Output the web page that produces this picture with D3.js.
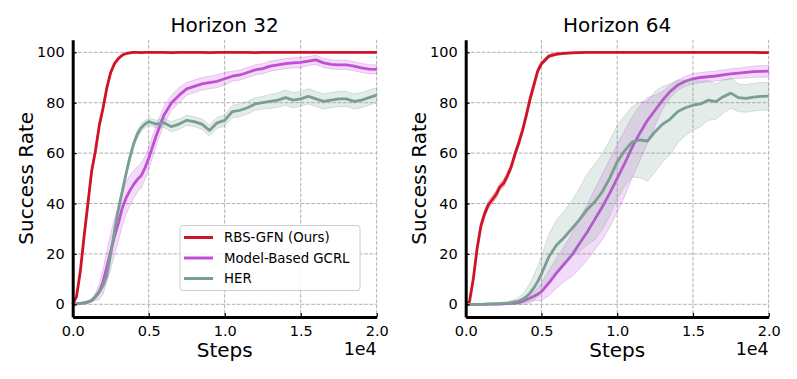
<!DOCTYPE html>
<html><head><meta charset="utf-8">
<script src="https://cdn.jsdelivr.net/npm/d3@7"></script>
<style>
body{margin:0;background:#fff;}
text{font-family:"DejaVu Sans",sans-serif;fill:#000;}
</style></head>
<body><svg id="c" width="797" height="379"></svg>
<script>
const steps = [0,250,500,750,1000,1250,1500,1750,2000,2250,2500,2750,3000,3250,3500,3750,4000,4250,4500,4750,5000,
  5500,6000,6500,7000,7500,8000,8500,9000,9500,10000,10500,11000,11500,12000,12500,13000,13500,14000,14500,15000,
  15500,16000,16500,17000,17500,18000,18500,19000,19500,20000];
const seriesNames = ["RBS-GFN (Ours)", "Model-Based GCRL", "HER"];
const seriesColors = ["#cf1427", "#c04fd6", "#7a9e91"];
const panelTitles = ["Horizon 32", "Horizon 64"];
const xTicks = [0, 5000, 10000, 15000, 20000];
const yTicks = [0, 20, 40, 60, 80, 100];

// Horizon 32
const h32Red = [0,3,13,27,40,53,61,71,78,86,92,95.5,97.5,98.8,99.5,99.8,100,100,99.9,100,100,
  100,100,99.9,100,100,100,100,99.9,100,100,100,100,100,99.9,100,100,100,100,100,100,100,100,100,100,100,100,100,100,100,100];
const h32RedSd = [0,1,1.5,1.5,1.5,1.5,1.5,1.5,1.2,1,0.8,0.6,0.4,0.3,0.2,0.2,0.2,0.2,0.2,0.2,0.2,
  0.2,0.2,0.2,0.2,0.2,0.2,0.2,0.2,0.2,0.2,0.2,0.2,0.2,0.2,0.2,0.2,0.2,0.2,0.2,0.2,0.2,0.2,0.2,0.2,0.2,0.2,0.2,0.2,0.2,0.2];
const h32Mbm = [0,0.2,0.4,0.6,1,1.5,3,5,9,15,21,27,32,38,42,45,47.5,49.5,51,54,58,
  67,75,80,83,85.5,86.5,87.5,88,88.5,89.5,90.5,91,92,93,93.5,94.5,95,95.5,95.8,96,96.5,97,95.8,95.2,95,95,94.5,93.8,93.3,93.2];
const h32MbmSd = [0,0.2,0.3,0.3,0.4,0.6,1.5,3,5,6,7,7,7,7,6.5,6,5.5,5,5,4.5,4.5,
  4,3.5,3,3,2.5,2.5,2.5,2.5,2.5,2.5,2,2,2,2,2,2,2,2,2,2,1.8,1.8,1.8,1.8,1.8,1.8,1.8,1.8,1.8,1.8];
const h32Her = [0,0.2,0.4,0.6,0.8,1.5,3,5,7.5,11.5,20,29,37.5,44.5,51.5,58,63.5,67.5,70,71.5,72.5,
  71.5,72,70.5,71.5,73,72.5,71.5,69,72,73,76.5,77,78,79.5,80,80.5,81,82,81,81.5,82.5,81.5,80.5,81,81.5,81.5,80.5,81,82,83];
const h32HerSd = [0,0.2,0.3,0.4,0.5,0.6,0.8,1,1.2,1.5,1.5,1.5,1.5,1.5,1.5,1.5,1.5,1.5,1.5,1.5,1.5,
  1.5,1.8,2,2,2,2,2,2.2,2.2,2.2,2.5,2.5,2.5,2.5,2.5,2.8,2.8,3,3,3,3,3,3,3,3,3,3,3,3,3];

// Horizon 64
const h64Red = [0,1,10,22,31,36,39.5,41.5,43.5,46.5,48,51,54.5,59.5,64,69,75,81.5,87,92.5,95.5,
  98.5,99.3,99.6,99.8,99.9,100,100,100,100,100,100,100,100,100,100,100,100,100,100,100,100,100,100,100,100,100,100,100,99.9,99.9];
const h64RedSd = [0,0.5,1,1.5,1.5,1.5,1.5,1.5,1.5,1.5,1.5,1.5,1.5,1.5,1.5,1.5,1.5,1.5,1.5,1.2,1,
  0.7,0.5,0.4,0.3,0.3,0.3,0.3,0.3,0.3,0.3,0.3,0.3,0.3,0.3,0.3,0.3,0.3,0.3,0.3,0.3,0.3,0.3,0.3,0.3,0.3,0.3,0.3,0.3,0.3,0.3];
const h64Mbm = [0,0,0,0,0,0,0.1,0.1,0.1,0.1,0.2,0.3,0.4,0.5,0.8,1.2,1.8,2.5,3.2,4,5,
  8.5,12.5,16,19.5,24,28.5,33.5,38.5,44,50,56,62.5,68,73,77,81,84.5,87,88.5,89.5,90,90.3,90.6,91,91.4,91.7,92,92.3,92.4,92.5];
const h64MbmSd = [0,0,0,0,0,0,0.1,0.1,0.1,0.1,0.2,0.2,0.3,0.4,0.5,0.7,1,1.3,1.7,2.5,3.5,
  5,6,7,8.5,10,11,12,13,13.5,13.5,13,12,11,9,6,3.5,2.5,2,2,2,2,2,2,2,2,2,2.2,2.2,2.3,2.3];
const h64Her = [0,0,0,0,0,0.1,0.1,0.2,0.2,0.3,0.4,0.5,0.7,1,1.3,2,3,4.5,6.5,9,12,
  19,23.5,26.5,30,33.5,37.5,40.5,44.5,50,56.5,61,64.5,65.2,64.8,68.5,71.5,73.5,76.5,78,79,79.5,81,80.4,82.4,83.8,82,81.7,82.2,82.5,82.6];
const h64HerSd = [0.3,0.3,0.3,0.3,0.3,0.3,0.3,0.4,0.4,0.4,0.5,0.5,0.8,1,1.5,2,3,4,5,6,7,
  9,10,10.5,11,12.5,14,15,15,15,14.5,14,14,15,16,16,15,14,12.5,11,10,9,8,7,6.5,6,5.5,5.5,5.5,5.5,5.5];

const panels = [
  {title: panelTitles[0], x0: 72.7, x1: 376.7, means: [h32Red, h32Mbm, h32Her], sds: [h32RedSd, h32MbmSd, h32HerSd], legend: true},
  {title: panelTitles[1], x0: 465.7, x1: 768.7, means: [h64Red, h64Mbm, h64Her], sds: [h64RedSd, h64MbmSd, h64HerSd], legend: false}
];

const svg = d3.select("#c");
const yTop = 39.7, yBot = 316.9;

panels.forEach(p => {
  const x = d3.scaleLinear().domain([0, 20000]).range([p.x0, p.x1]);
  const y = d3.scaleLinear().domain([-5, 105]).range([yBot, yTop]);
  const g = svg.append("g");

  // grid
  g.append("g").selectAll("line").data(xTicks.filter(d => d > 0)).join("line")
    .attr("x1", d => x(d)).attr("x2", d => x(d)).attr("y1", yTop).attr("y2", yBot)
    .attr("stroke", "#b0b0b0").attr("stroke-width", 1).attr("stroke-dasharray", "3.7,1.6");
  g.append("g").selectAll("line").data(yTicks).join("line")
    .attr("x1", p.x0).attr("x2", p.x1).attr("y1", d => y(d)).attr("y2", d => y(d))
    .attr("stroke", "#b0b0b0").attr("stroke-width", 1).attr("stroke-dasharray", "3.7,1.6");

  // series
  p.means.forEach((m, si) => {
    const sd = p.sds[si];
    const rows = steps.map((s, i) => ({s, m: m[i], lo: m[i] - sd[i], hi: m[i] + sd[i]}));
    const area = d3.area().x(d => x(d.s)).y0(d => y(d.lo)).y1(d => y(d.hi));
    g.append("path").datum(rows).attr("d", area)
      .attr("fill", seriesColors[si]).attr("fill-opacity", 0.2)
      .attr("stroke", seriesColors[si]).attr("stroke-opacity", 0.35).attr("stroke-width", 0.8);
    const line = d3.line().x(d => x(d.s)).y(d => y(d.m));
    g.append("path").datum(rows).attr("d", line)
      .attr("fill", "none").attr("stroke", seriesColors[si]).attr("stroke-width", 2.8)
      .attr("stroke-linejoin", "round");
  });

  // axes
  const xAxis = d3.axisBottom(x).tickValues(xTicks).tickSizeInner(-4).tickSizeOuter(0).tickPadding(9)
    .tickFormat(d => (d / 1e4).toFixed(1));
  const xa = g.append("g").attr("transform", `translate(0,${yBot})`).call(xAxis);
  xa.select(".domain").attr("stroke", "#000").attr("stroke-width", 3);
  xa.selectAll(".tick line").attr("stroke", "#000").attr("stroke-width", 1.2);
  xa.selectAll(".tick text").attr("font-size", 14.5).attr("font-family", "DejaVu Sans").attr("fill", "#000");

  const yAxis = d3.axisLeft(y).tickValues(yTicks).tickSizeInner(-4).tickSizeOuter(0).tickPadding(8);
  const ya = g.append("g").attr("transform", `translate(${p.x0},0)`).call(yAxis);
  ya.select(".domain").attr("stroke", "#000").attr("stroke-width", 3);
  ya.selectAll(".tick line").attr("stroke", "#000").attr("stroke-width", 1.2);
  ya.selectAll(".tick text").attr("font-size", 14.5).attr("font-family", "DejaVu Sans").attr("fill", "#000");

  // titles & labels
  const cx = (p.x0 + p.x1) / 2;
  g.append("text").attr("x", cx).attr("y", 31.5).attr("text-anchor", "middle").attr("font-size", 20).text(p.title);
  g.append("text").attr("x", cx).attr("y", 357).attr("text-anchor", "middle").attr("font-size", 20).text("Steps");
  g.append("text").attr("x", p.x1).attr("y", 355).attr("text-anchor", "end").attr("font-size", 17.5).text("1e4");
  g.append("text").attr("transform", `translate(${p.x0 - 40},${(yTop + yBot) / 2}) rotate(-90)`)
    .attr("text-anchor", "middle").attr("font-size", 20).text("Success Rate");

  if (p.legend) {
    const lg = g.append("g").attr("transform", "translate(180,225.5)");
    lg.append("rect").attr("width", 180).attr("height", 65).attr("rx", 3)
      .attr("fill", "#fff").attr("fill-opacity", 0.85).attr("stroke", "#cccccc").attr("stroke-width", 1);
    seriesNames.forEach((n, i) => {
      const yy = 12 + i * 20.5;
      lg.append("line").attr("x1", 4).attr("x2", 33).attr("y1", yy).attr("y2", yy)
        .attr("stroke", seriesColors[i]).attr("stroke-width", 3);
      lg.append("text").attr("x", 44).attr("y", yy).attr("dy", "0.35em").attr("font-size", 13.3).text(n);
    });
  }
});
</script>
</body></html>
